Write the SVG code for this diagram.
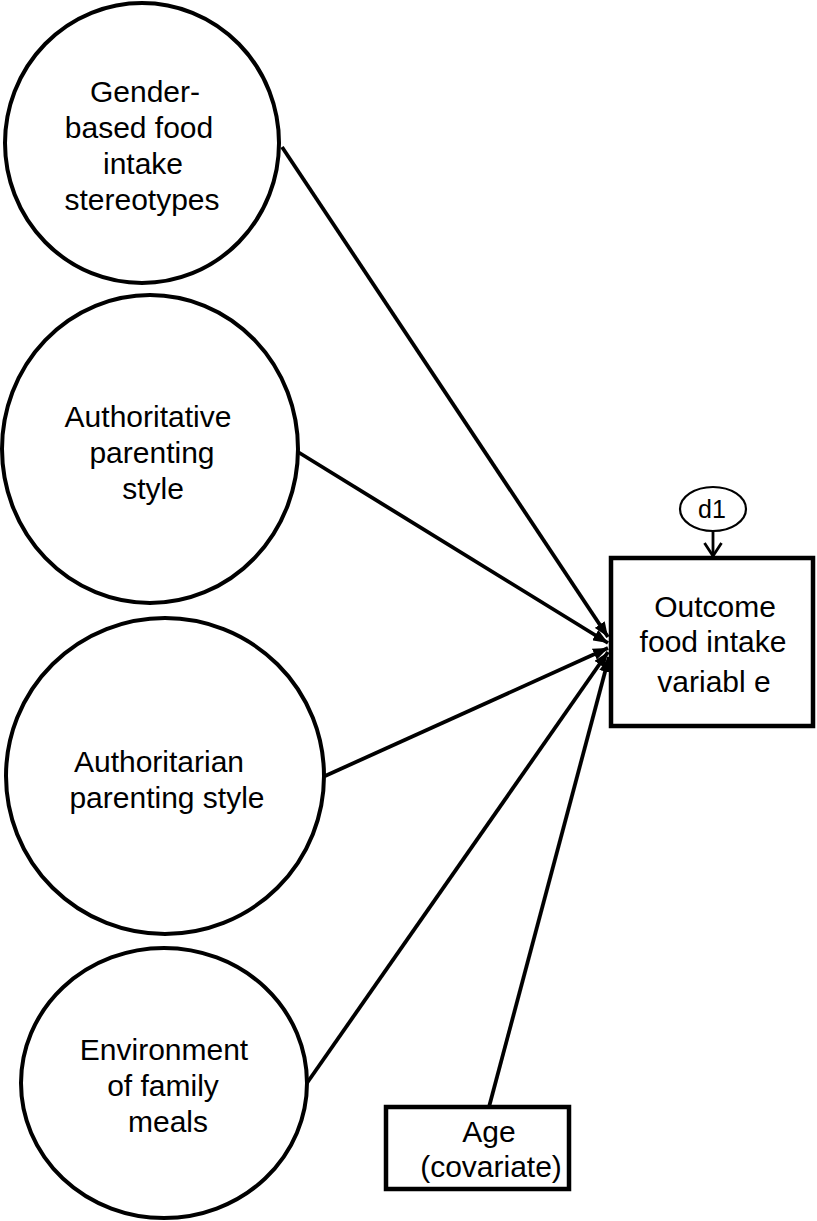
<svg xmlns="http://www.w3.org/2000/svg" width="817" height="1221" viewBox="0 0 817 1221">
<style>
.node{fill:#fff;stroke:#000;stroke-width:4}
.box{fill:#fff;stroke:#000;stroke-width:4.5}
.lbl{font-family:"Liberation Sans",Arial,sans-serif;font-size:30px;fill:#000;text-anchor:middle}
.small{font-size:25px}
.edge{stroke:#000;stroke-width:3.8;fill:none}
</style>
<defs>
<marker id="arr" markerUnits="userSpaceOnUse" markerWidth="16" markerHeight="12" refX="15" refY="6" orient="auto">
<path d="M0,0 L15,6 L0,12 z" fill="#000"/>
</marker>
<marker id="open" markerUnits="userSpaceOnUse" markerWidth="16" markerHeight="20" refX="14" refY="10" orient="auto">
<path d="M1,1.5 L14,10 L1,18.5" fill="none" stroke="#000" stroke-width="2.8"/>
</marker>
</defs>
<rect width="817" height="1221" fill="#fff"/>
<g id="connectors">
<line class="edge" x1="282" y1="147" x2="608" y2="637" marker-end="url(#arr)"/>
<line class="edge" x1="298" y1="452" x2="608" y2="643" marker-end="url(#arr)"/>
<line class="edge" x1="325" y1="776" x2="608" y2="648" marker-end="url(#arr)"/>
<line class="edge" x1="307" y1="1083" x2="608" y2="652" marker-end="url(#arr)"/>
<line class="edge" x1="489" y1="1107" x2="609" y2="657" marker-end="url(#arr)"/>
<line x1="713" y1="531" x2="713" y2="556" stroke="#000" stroke-width="2.8" marker-end="url(#open)"/>
</g>
<g id="gender">
<ellipse class="node" cx="142" cy="143" rx="137" ry="140"/>
<text class="lbl" x="145" y="102">Gender-</text>
<text class="lbl" x="139" y="138">based food</text>
<text class="lbl" x="143" y="174">intake</text>
<text class="lbl" x="142" y="210">stereotypes</text>
</g>
<g id="authoritative">
<ellipse class="node" cx="150" cy="449" rx="148" ry="154"/>
<text class="lbl" x="148" y="427">Authoritative</text>
<text class="lbl" x="152" y="463">parenting</text>
<text class="lbl" x="153" y="499">style</text>
</g>
<g id="authoritarian">
<ellipse class="node" cx="165" cy="776" rx="159" ry="158"/>
<text class="lbl" x="159" y="772">Authoritarian</text>
<text class="lbl" x="167" y="808">parenting style</text>
</g>
<g id="environment">
<ellipse class="node" cx="164" cy="1083" rx="143" ry="135"/>
<text class="lbl" x="164" y="1060">Environment</text>
<text class="lbl" x="163" y="1096">of family</text>
<text class="lbl" x="168" y="1132">meals</text>
</g>
<g id="outcome">
<rect class="box" x="611" y="558" width="202" height="168"/>
<text class="lbl" x="715" y="617">Outcome</text>
<text class="lbl" x="713" y="652">food intake</text>
<text class="lbl" x="714" y="692">variabl e</text>
</g>
<g id="d1">
<ellipse cx="713" cy="509" rx="33" ry="22" fill="#fff" stroke="#000" stroke-width="2.2"/>
<text class="lbl small" x="712" y="518">d1</text>
</g>
<g id="age">
<rect class="box" x="386" y="1107" width="183" height="82"/>
<text class="lbl" x="489" y="1142">Age</text>
<text class="lbl" x="491" y="1177">(covariate)</text>
</g>
</svg>
